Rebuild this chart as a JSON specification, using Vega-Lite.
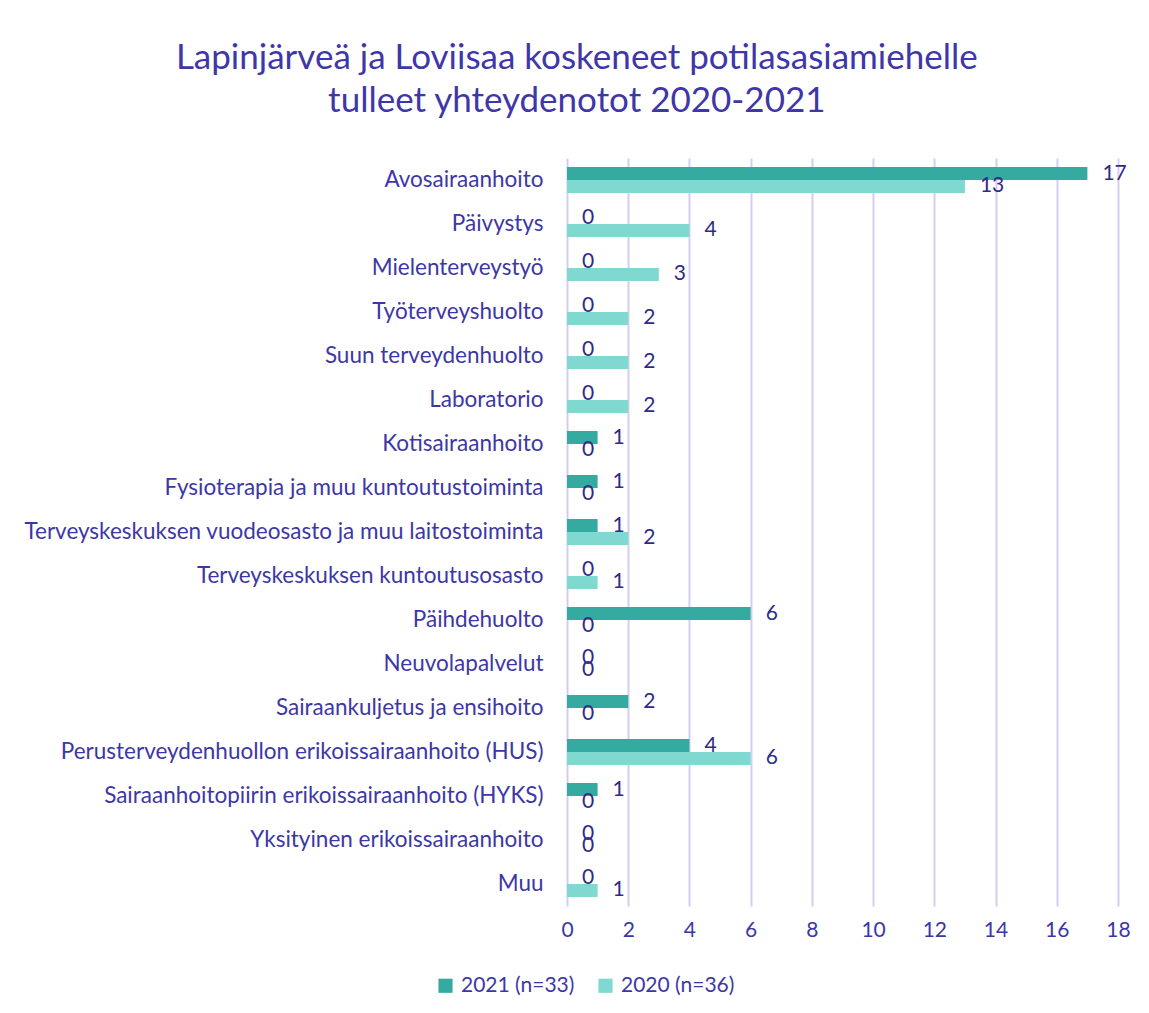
{
  "$schema": "https://vega.github.io/schema/vega-lite/v6.json",
  "width": 551,
  "height": 748,
  "autosize": {"type": "none"},
  "padding": {"left": 567, "top": 158, "right": 31, "bottom": 107},
  "background": "white",
  "title": {
    "text": ["Lapinjärveä ja Loviisaa koskeneet potilasasiamiehelle", "tulleet yhteydenotot 2020-2021"],
    "anchor": "middle",
    "frame": "bounds",
    "font": "Lato",
    "fontSize": 35,
    "fontWeight": "normal",
    "color": "#3f37a8",
    "lineHeight": 43,
    "offset": 39
  },
  "data": {
    "values": [
      {"kategoria": "Avosairaanhoito", "vuosi": "2021 (n=33)", "arvo": 17},
      {"kategoria": "Avosairaanhoito", "vuosi": "2020 (n=36)", "arvo": 13},
      {"kategoria": "Päivystys", "vuosi": "2021 (n=33)", "arvo": 0},
      {"kategoria": "Päivystys", "vuosi": "2020 (n=36)", "arvo": 4},
      {"kategoria": "Mielenterveystyö", "vuosi": "2021 (n=33)", "arvo": 0},
      {"kategoria": "Mielenterveystyö", "vuosi": "2020 (n=36)", "arvo": 3},
      {"kategoria": "Työterveyshuolto", "vuosi": "2021 (n=33)", "arvo": 0},
      {"kategoria": "Työterveyshuolto", "vuosi": "2020 (n=36)", "arvo": 2},
      {"kategoria": "Suun terveydenhuolto", "vuosi": "2021 (n=33)", "arvo": 0},
      {"kategoria": "Suun terveydenhuolto", "vuosi": "2020 (n=36)", "arvo": 2},
      {"kategoria": "Laboratorio", "vuosi": "2021 (n=33)", "arvo": 0},
      {"kategoria": "Laboratorio", "vuosi": "2020 (n=36)", "arvo": 2},
      {"kategoria": "Kotisairaanhoito", "vuosi": "2021 (n=33)", "arvo": 1},
      {"kategoria": "Kotisairaanhoito", "vuosi": "2020 (n=36)", "arvo": 0},
      {"kategoria": "Fysioterapia ja muu kuntoutustoiminta", "vuosi": "2021 (n=33)", "arvo": 1},
      {"kategoria": "Fysioterapia ja muu kuntoutustoiminta", "vuosi": "2020 (n=36)", "arvo": 0},
      {"kategoria": "Terveyskeskuksen vuodeosasto ja muu laitostoiminta", "vuosi": "2021 (n=33)", "arvo": 1},
      {"kategoria": "Terveyskeskuksen vuodeosasto ja muu laitostoiminta", "vuosi": "2020 (n=36)", "arvo": 2},
      {"kategoria": "Terveyskeskuksen kuntoutusosasto", "vuosi": "2021 (n=33)", "arvo": 0},
      {"kategoria": "Terveyskeskuksen kuntoutusosasto", "vuosi": "2020 (n=36)", "arvo": 1},
      {"kategoria": "Päihdehuolto", "vuosi": "2021 (n=33)", "arvo": 6},
      {"kategoria": "Päihdehuolto", "vuosi": "2020 (n=36)", "arvo": 0},
      {"kategoria": "Neuvolapalvelut", "vuosi": "2021 (n=33)", "arvo": 0},
      {"kategoria": "Neuvolapalvelut", "vuosi": "2020 (n=36)", "arvo": 0},
      {"kategoria": "Sairaankuljetus ja ensihoito", "vuosi": "2021 (n=33)", "arvo": 2},
      {"kategoria": "Sairaankuljetus ja ensihoito", "vuosi": "2020 (n=36)", "arvo": 0},
      {"kategoria": "Perusterveydenhuollon erikoissairaanhoito (HUS)", "vuosi": "2021 (n=33)", "arvo": 4},
      {"kategoria": "Perusterveydenhuollon erikoissairaanhoito (HUS)", "vuosi": "2020 (n=36)", "arvo": 6},
      {"kategoria": "Sairaanhoitopiirin erikoissairaanhoito (HYKS)", "vuosi": "2021 (n=33)", "arvo": 1},
      {"kategoria": "Sairaanhoitopiirin erikoissairaanhoito (HYKS)", "vuosi": "2020 (n=36)", "arvo": 0},
      {"kategoria": "Yksityinen erikoissairaanhoito", "vuosi": "2021 (n=33)", "arvo": 0},
      {"kategoria": "Yksityinen erikoissairaanhoito", "vuosi": "2020 (n=36)", "arvo": 0},
      {"kategoria": "Muu", "vuosi": "2021 (n=33)", "arvo": 0},
      {"kategoria": "Muu", "vuosi": "2020 (n=36)", "arvo": 1}
    ]
  },
  "encoding": {
    "y": {
      "field": "kategoria",
      "type": "nominal",
      "sort": null,
      "scale": {"paddingInner": 0.41, "paddingOuter": 0.205},
      "axis": {
        "title": null,
        "domain": false,
        "ticks": false,
        "labelPadding": 24,
        "labelFont": "Lato",
        "labelFontSize": 22.5,
        "labelColor": "#3d37a5",
        "labelLimit": 700
      }
    },
    "yOffset": {
      "field": "vuosi",
      "type": "nominal",
      "sort": ["2021 (n=33)", "2020 (n=36)"]
    },
    "x": {
      "field": "arvo",
      "type": "quantitative",
      "scale": {"domain": [0, 18], "nice": false},
      "axis": {
        "title": null,
        "domain": false,
        "ticks": false,
        "values": [0, 2, 4, 6, 8, 10, 12, 14, 16, 18],
        "labelOverlap": false,
        "labelFlush": false,
        "grid": true,
        "gridColor": "#d2cef2",
        "gridWidth": 2,
        "labelPadding": 13,
        "labelFont": "Lato",
        "labelFontSize": 21,
        "labelColor": "#3d37a5"
      }
    }
  },
  "layer": [
    {
      "mark": {"type": "bar"},
      "encoding": {
        "color": {
          "field": "vuosi",
          "type": "nominal",
          "scale": {"domain": ["2021 (n=33)", "2020 (n=36)"], "range": ["#35aaa1", "#80d9d1"]},
          "legend": {
            "title": null,
            "orient": "none",
            "direction": "horizontal",
            "legendX": -132,
            "legendY": 817,
            "symbolType": "square",
            "symbolSize": 200,
            "symbolStrokeWidth": 0,
            "labelFont": "Lato",
            "labelFontSize": 21,
            "labelColor": "#3d37a5",
            "columnPadding": 20,
            "labelOffset": 5
          }
        }
      }
    },
    {
      "mark": {"type": "text", "align": "left", "baseline": "middle", "dx": 15, "font": "Lato", "fontSize": 21, "color": "#2f2a88"},
      "encoding": {
        "text": {"field": "arvo", "type": "quantitative"}
      }
    }
  ],
  "config": {
    "view": {"stroke": null}
  }
}
